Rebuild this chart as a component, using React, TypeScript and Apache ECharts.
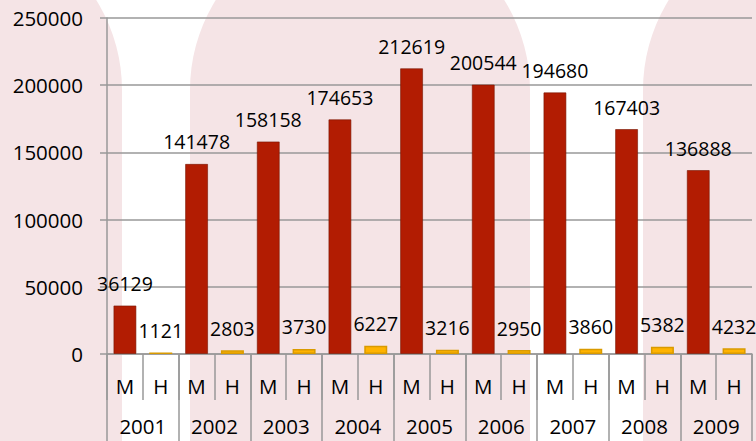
import React, { useEffect, useRef } from "react";
import * as echarts from "echarts";

const years = ["2001", "2002", "2003", "2004", "2005", "2006", "2007", "2008", "2009"];
const groupLabels = ["M", "H"];
const mValues = [36129, 141478, 158158, 174653, 212619, 200544, 194680, 167403, 136888];
const hValues = [1121, 2803, 3730, 6227, 3216, 2950, 3860, 5382, 4232];
const yTicks = { min: 0, max: 250000, interval: 50000 };

const FONT = "'Open Sans', 'Noto Sans', sans-serif";
const PINK = "#F5E4E6";
const M_COLOR = "#B21C02";
const H_COLOR = "#FFB300";

export default function App() {
  const ref = useRef<HTMLDivElement>(null);
  useEffect(() => {
    if (!ref.current) return;
    const chart = echarts.init(ref.current, undefined, { renderer: "svg" });

    const cats: string[] = [];
    const data: any[] = [];
    years.forEach((y, i) => {
      cats.push(groupLabels[0]);
      data.push({
        value: mValues[i],
        itemStyle: { color: M_COLOR, borderColor: "rgba(120,20,0,0.6)", borderWidth: 1 },
      });
      cats.push(groupLabels[1]);
      data.push({
        value: hValues[i],
        itemStyle: { color: H_COLOR, borderColor: "#D99A00", borderWidth: 1.5 },
      });
    });

    const archR = 170;
    const archCy = 90;
    const archCenters = [-48, 360, 813];
    const bg: any[] = [];
    archCenters.forEach((cx) => {
      bg.push({
        type: "circle",
        shape: { cx, cy: archCy, r: archR },
        style: { fill: PINK },
        silent: true,
        z: -10,
      });
      bg.push({
        type: "rect",
        shape: { x: cx - archR, y: archCy, width: archR * 2, height: 441 - archCy },
        style: { fill: PINK },
        silent: true,
        z: -10,
      });
    });

    const gray = "#999999";

    chart.setOption({
      animation: false,
      backgroundColor: "#ffffff",
      graphic: { elements: bg },
      grid: { left: 107, right: 4, top: 18, bottom: 87, containLabel: false },
      xAxis: [
        {
          type: "category",
          data: cats,
          position: "bottom",
          axisLine: { show: true, lineStyle: { color: gray, width: 1.5 } },
          axisTick: { show: true, length: 46, interval: 0, lineStyle: { color: gray, width: 1.5 } },
          axisLabel: { interval: 0, margin: 21, color: "#000", fontFamily: FONT, fontSize: 20.5 },
          splitLine: { show: false },
        },
        {
          type: "category",
          data: years,
          position: "bottom",
          axisLine: { show: false },
          axisTick: { show: true, length: 90, interval: 0, lineStyle: { color: gray, width: 1.5 } },
          axisLabel: { interval: 0, margin: 61, color: "#000", fontFamily: FONT, fontSize: 20.5 },
          splitLine: { show: false },
        },
      ],
      yAxis: {
        type: "value",
        min: yTicks.min,
        max: yTicks.max,
        interval: yTicks.interval,
        axisLine: { show: true, lineStyle: { color: gray, width: 1.5 } },
        axisTick: { show: true, length: 7, lineStyle: { color: gray, width: 1.5 } },
        axisLabel: {
          margin: 24,
          color: "#000",
          fontFamily: FONT,
          fontSize: 20.5,
          formatter: (v: number) => String(v),
        },
        splitLine: { show: true, lineStyle: { color: gray, width: 1.5 } },
      },
      series: [
        {
          type: "bar",
          xAxisIndex: 0,
          data,
          barWidth: 23,
          label: {
            show: true,
            position: "top",
            distance: 12,
            color: "#000",
            fontFamily: FONT,
            fontSize: 19.5,
          },
        },
      ],
    });
    return () => chart.dispose();
  }, []);
  return (
    <div
      ref={ref}
      style={{ position: "fixed", left: 0, top: 0, width: 756, height: 441 }}
    />
  );
}
